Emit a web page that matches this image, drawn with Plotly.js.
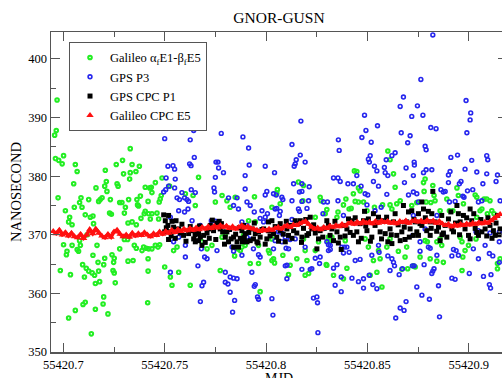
<!DOCTYPE html>
<html><head><meta charset="utf-8">
<script src="https://cdn.plot.ly/plotly-3.0.1.min.js"></script>
<style>html,body{margin:0;padding:0;background:#fff;overflow:hidden;width:502px;height:378px;}#chart{width:508px;height:386px;}</style>
</head><body><div id="chart"></div>
<script>
const MJD_BASE = 55420;

// Galileo alpha_f E1 - beta_f E5 (fraction of day, ns)
const galileoMjd = [
0.6965,0.6957,0.6969,0.6961,0.6977,0.6994,0.7001,0.7059,0.7068,0.7051,
0.6974,0.7010,0.7031,0.7026,0.7043,0.7054,0.7080,0.7087,0.7092,0.7108,
0.7125,0.7133,0.7146,0.7149,0.7161,0.7174,0.7182,0.7191,0.7207,0.7212,
0.7204,0.7215,0.7232,0.7228,0.7237,0.7265,0.7270,0.7261,0.7292,0.7297,
0.7330,0.7339,0.7330,0.7327,0.7358,0.7375,0.7278,0.7289,0.7306,0.7322,
0.7301,0.7363,0.7366,0.7371,0.7380,0.7404,0.7426,0.7383,0.7399,0.7421,
0.7339,0.7319,0.7360,0.7001,0.7018,0.7015,0.7043,0.7068,0.7075,0.7084,
0.7080,0.6985,0.7035,0.7095,0.7104,0.7113,0.7125,0.7142,0.7154,0.7146,
0.7166,0.7158,0.7179,0.7174,0.7171,0.7199,0.7204,0.7240,0.7251,0.7248,
0.7245,0.7251,0.7256,0.7278,0.7301,0.7317,0.7319,0.7344,0.7350,0.7360,
0.7388,0.7396,0.7409,0.7418,0.7418,0.7416,0.7026,0.7059,0.7097,0.7108,
0.7158,0.7196,0.7199,0.7220,0.7138,0.7117,
0.7487,0.7454,0.7434,0.7524,0.7483,0.7437,0.7418,0.7473,0.7667,0.7602,
0.7640,0.7651,0.7750,0.7783,0.7807,0.7823,0.7848,0.7404,0.7437,0.7462,
0.7470,0.7429,0.7421,0.7454,0.7467,0.7437,0.7544,0.7561,0.7684,0.7709,
0.7733,0.7783,0.7799,0.7845,0.7862,0.7500,0.7528,0.7626,0.7774,0.7536,
0.7569,0.7478,0.7475,
0.8056,0.8053,0.7943,0.8160,0.8185,0.8182,0.8267,0.8272,0.8070,0.8029,
0.8292,0.8243,0.7947,0.7914,0.7889,0.8029,0.7902,0.7881,0.7873,0.7897,
0.7963,0.8012,0.8037,0.8017,0.8029,0.8042,0.7963,0.7922,0.8083,0.8119,
0.8111,0.8193,0.8202,0.8210,0.8193,0.8152,0.8243,0.8297,0.8308,0.8259,
0.7971,0.8185,
0.8601,0.8612,0.8436,0.8448,0.8629,0.8637,0.8456,0.8464,0.8431,0.8394,
0.8440,0.8456,0.8481,0.8420,0.8410,0.8498,0.8535,0.8575,0.8612,0.8621,
0.8645,0.8662,0.8719,0.8300,0.8355,0.8350,0.8382,0.8308,0.8325,0.8391,
0.8489,0.8505,0.8555,0.8563,0.8530,0.8596,0.8612,0.8653,0.8686,0.8694,
0.8670,0.8699,0.8727,0.8300,0.8333,0.8399,0.8382,0.8514,0.8547,0.8572,
0.8777,0.8785,0.8823,0.8780,0.8829,0.8744,0.8790,0.8813,0.8834,0.8892,
0.8942,0.8949,0.9032,0.9040,0.8974,0.9076,0.9089,0.9105,0.9114,0.9125,
0.9092,0.9040,0.9056,0.9065,0.8905,0.8922,0.8859,0.8785,0.8796,0.8859,
0.8867,0.8843,0.8958,0.8967,0.8999,0.8982,0.8971,0.9036,0.8760,0.8810,
0.8843,0.8875,0.8736,0.8967,0.9142,0.9155,0.9142
];
const galileoNs = [
387.8,387.0,393.0,383.0,382.7,382.1,383.5,382.0,380.8,378.7,
376.3,374.1,373.0,372.2,371.7,374.7,375.5,376.3,374.7,373.4,
376.0,373.0,373.2,371.9,378.0,375.7,376.0,376.3,381.0,379.1,
378.3,377.4,376.0,373.7,373.5,378.7,378.3,382.0,382.7,380.4,
384.7,382.0,380.6,379.5,380.8,381.7,375.5,375.5,374.7,376.0,
373.7,376.0,375.1,374.9,376.6,378.1,378.0,372.8,373.6,373.6,
372.2,372.0,371.7,368.3,367.2,366.6,368.2,367.5,367.2,368.2,
369.0,363.9,363.2,364.9,362.8,364.3,363.8,363.5,363.1,366.5,
368.2,361.7,362.0,363.8,365.3,364.9,366.0,366.6,366.0,365.3,
363.9,363.5,361.8,367.6,369.2,369.2,365.5,365.6,368.2,367.7,
367.3,367.9,367.7,365.9,363.8,358.4,355.8,357.1,358.1,358.5,
357.3,358.2,359.4,356.5,353.1,370.0,
379.7,378.9,378.1,378.3,376.7,377.2,375.7,375.6,379.8,377.0,
376.7,375.0,375.6,376.7,375.8,374.7,376.4,374.0,373.6,373.7,
372.7,372.7,367.6,368.2,367.9,367.6,367.3,367.9,368.8,367.6,
368.2,369.6,369.9,366.4,367.6,364.5,362.8,361.4,363.9,361.4,
363.6,376.1,368.3,
377.7,377.1,376.5,379.0,378.4,375.8,376.4,375.8,375.3,374.7,
373.6,373.0,372.2,372.4,369.9,369.3,368.8,367.9,367.3,368.2,
368.2,367.3,365.9,366.9,365.6,365.2,365.1,365.1,366.5,364.8,
363.2,367.3,365.6,363.4,363.1,365.9,367.3,364.9,369.6,368.8,
360.3,369.3,
384.3,382.8,380.9,380.8,380.4,378.1,378.0,377.5,377.0,376.1,
375.7,375.6,375.6,374.5,374.4,374.1,374.7,375.1,375.1,374.4,
375.3,375.8,375.0,374.3,373.9,373.0,375.1,368.8,369.6,369.0,
369.3,367.9,367.3,365.9,365.6,367.9,369.3,367.2,366.2,367.9,
364.1,364.2,364.7,364.8,363.1,364.3,362.5,363.1,363.6,361.1,
378.9,379.5,378.4,377.4,376.7,375.5,375.6,375.5,375.8,376.1,
378.0,376.7,376.8,376.4,375.3,376.1,376.1,375.8,374.1,373.6,
373.6,373.0,374.1,374.4,374.1,374.1,374.1,369.0,368.8,369.3,
368.2,368.8,369.6,368.8,368.2,367.3,366.2,369.3,366.2,365.9,
365.5,365.3,364.5,363.9,365.1,365.9,364.2
];

// GPS P3
const gpsP3Mjd = [
0.7511,0.7640,0.7643,0.7500,0.7626,0.7779,0.7886,0.7646,
0.7516,0.7541,0.7549,0.7623,0.7630,0.7753,0.7763,0.7766,
0.7790,0.7750,0.7507,0.7552,0.7519,0.7549,0.7631,0.7651,
0.7743,0.7746,0.7897,0.7897,0.7495,0.7585,0.7561,0.7573,
0.7598,0.7610,0.7618,0.7815,0.7840,0.7857,0.7864,0.7569,
0.7598,0.7615,0.7528,0.7730,0.7750,0.7635,0.7676,0.7881,
0.7544,0.7569,0.7602,0.7681,0.7697,0.7709,0.7602,0.7758,
0.7832,0.7840,0.7881,0.7664,0.7799,0.7823,0.7840,0.7857,
0.7799,0.7812,0.7692,0.7684,0.7823,0.7845,0.7676,0.7835,
0.8172,0.7914,0.8128,0.8169,0.8149,0.8144,0.8139,0.8193,
0.7917,0.7996,0.8042,0.8004,0.7996,0.8037,0.8050,0.8078,
0.8083,0.8136,0.8177,0.8165,0.8177,0.8213,0.8128,0.8177,
0.8210,0.7906,0.7922,0.7942,0.7980,0.8007,0.7996,0.8045,
0.8053,0.8070,0.8066,0.7971,0.8128,0.8160,0.8165,0.8202,
0.8284,0.8303,0.8281,0.7906,0.7955,0.7988,0.8061,0.8078,
0.8045,0.8078,0.8095,0.8119,0.8144,0.7906,0.7922,0.7938,
0.7963,0.7971,0.8037,0.8099,0.8111,0.8193,0.8243,0.8267,
0.8264,0.8308,0.8308,0.8095,0.8103,0.8103,0.8177,0.8218,
0.8226,0.7930,0.7947,0.7942,0.7958,0.7963,0.8029,0.8034,
0.8234,0.8251,0.8254,0.8256,
0.8678,0.8662,0.8719,0.8486,0.8550,0.8493,0.8473,0.8519,
0.8667,0.8711,0.8699,0.8357,0.8361,0.8637,0.8621,0.8593,
0.8514,0.8505,0.8510,0.8535,0.8547,0.8584,0.8588,0.8601,
0.8691,0.8732,0.8727,0.8448,0.8333,0.8355,0.8366,0.8404,
0.8431,0.8469,0.8530,0.8555,0.8683,0.8489,0.8502,0.8596,
0.8703,0.8727,0.8355,0.8498,0.8382,0.8538,0.8568,0.8300,
0.8317,0.8317,0.8374,0.8387,0.8399,0.8382,0.8410,0.8440,
0.8464,0.8522,0.8555,0.8558,0.8601,0.8621,0.8629,0.8634,
0.8612,0.8657,0.8673,0.8722,0.8350,0.8333,0.8371,0.8424,
0.8456,0.8481,0.8509,0.8481,0.8527,0.8547,0.8341,0.8371,
0.8662,0.8681,0.8691,0.8640,
0.8823,0.8764,0.8987,0.8747,0.8774,0.9010,0.9007,0.8813,
0.8839,0.8991,0.8785,0.8790,0.8945,0.8912,0.9089,0.9094,
0.9015,0.8731,0.8982,0.8790,0.8777,0.8818,0.8908,0.8900,
0.9040,0.9089,0.9142,0.9135,0.8962,0.8954,0.8900,0.9070,
0.9020,0.8994,0.8863,0.8875,0.8884,0.8971,0.8977,0.8744,
0.8752,0.9048,0.9065,0.8933,0.8905,0.8727,0.8843,0.9155,
0.8724,0.8785,0.9036,0.9048,0.8875,0.9105,0.9151,0.9151,
0.8760,0.8801,0.8810,0.8925,0.8938,0.8917,0.8949,0.9023,
0.9081,0.9102,0.9119,0.9048,0.8760,0.8843,0.8731,0.8780,
0.8829,0.8823,0.8818,0.9151,0.8917,0.8933,0.9003,0.9073,
0.9110,0.9102,0.9108,0.8744,0.8769,0.8806,0.8851,0.8856,
0.7505,0.7528
];
const gpsP3Ns = [
389.1,389.4,387.8,386.4,386.2,387.3,386.7,383.2,
381.7,381.8,381.2,382.1,381.8,382.4,382.4,381.4,
380.6,379.8,379.7,379.5,378.3,378.0,377.7,377.2,
378.0,377.3,380.1,377.8,377.3,377.2,376.3,376.0,
376.3,376.0,375.7,376.3,375.0,376.3,374.4,374.1,
373.9,374.4,373.0,372.4,372.3,372.4,371.6,372.2,
368.8,369.6,368.2,367.6,366.2,365.9,366.2,367.3,
367.9,367.2,366.5,364.7,363.6,362.8,362.6,362.5,
361.9,361.6,361.9,361.3,360.2,358.8,358.6,356.8,
389.4,384.8,385.4,383.6,382.8,382.1,381.7,382.4,
381.9,381.7,380.6,377.4,376.8,377.0,376.8,376.4,
376.0,378.7,378.7,377.3,377.4,378.2,375.8,375.7,
375.8,375.6,375.0,373.9,374.1,373.6,373.0,374.4,
374.5,374.0,373.3,372.8,372.6,374.4,374.0,374.5,
375.6,375.6,373.6,371.6,370.7,372.2,370.5,370.3,
369.0,368.8,369.6,369.2,369.3,369.6,369.2,367.6,
366.6,366.2,367.6,367.7,367.6,367.9,366.0,366.2,
365.1,368.3,367.3,364.7,364.8,362.5,364.1,364.1,
364.2,363.6,361.5,361.2,359.4,359.0,359.1,356.3,
359.2,359.4,358.4,353.3,
393.5,391.9,390.2,390.4,388.6,387.8,386.6,385.8,
387.4,386.9,385.7,386.2,384.4,384.0,383.5,382.8,
383.5,382.9,382.4,381.7,380.9,381.5,380.6,380.1,
381.4,381.9,380.1,380.1,379.7,379.7,379.1,378.7,
378.7,378.3,379.1,378.3,378.9,377.0,376.8,376.9,
376.8,377.3,375.8,375.1,373.3,374.1,374.7,368.8,
368.2,367.5,367.9,367.9,367.9,366.9,367.0,365.6,
365.8,366.5,368.2,367.0,366.4,365.9,365.3,364.7,
363.9,363.2,364.2,364.7,364.9,364.3,362.8,362.6,
362.0,362.5,363.1,360.9,361.5,360.8,361.4,360.3,
357.5,357.1,358.6,355.8,
404.1,396.5,392.9,392.0,390.4,390.8,389.6,388.3,
388.1,387.4,385.1,384.5,383.6,383.2,383.5,382.8,
382.7,382.4,381.2,381.1,380.6,381.1,380.8,380.2,
380.7,380.4,380.2,379.1,379.1,378.7,378.9,378.7,
377.7,377.5,377.7,377.3,377.4,376.6,376.4,377.0,
375.6,375.6,375.8,375.7,375.6,373.3,373.3,375.8,
369.9,371.0,370.5,370.7,370.2,370.3,370.5,368.8,
368.8,367.9,367.7,367.5,367.3,366.4,366.5,367.6,
368.2,366.8,366.4,365.9,367.2,366.5,364.7,364.9,
364.2,363.8,363.4,365.3,362.6,362.4,363.4,362.9,
363.2,361.5,360.9,361.1,359.7,359.0,361.3,356.0,
377.7,363.6
];

// GPS CPC P1
const gpsCpcMjd = [
0.7495,0.7503,0.7536,0.7556,0.7516,0.7500,0.7528,0.7544,
0.7569,0.7577,0.7519,0.7552,0.7593,0.7618,0.7635,0.7643,
0.7659,0.7667,0.7667,0.7676,0.7692,0.7709,0.7716,0.7725,
0.7741,0.7758,0.7769,0.7774,0.7786,0.7799,0.7807,0.7815,
0.7828,0.7840,0.7840,0.7857,0.7873,0.7884,0.7864,0.7684,
0.7651,0.7519,
0.7881,0.7897,0.7906,0.7930,0.7938,0.7947,0.7963,0.7971,
0.7988,0.8012,0.8029,0.8012,0.8037,0.8053,0.8070,0.8103,
0.8111,0.8095,0.8136,0.8144,0.8160,0.8169,0.8185,0.8177,
0.8202,0.8218,0.8226,0.8243,0.8259,0.8267,0.8287,0.8300,
0.8308,0.7922,0.7955,0.8004,0.8251,0.7889,0.8070,0.8119,
0.8325,0.8350,0.8366,0.8333,0.8371,0.8382,0.8399,0.8407,
0.8424,0.8431,0.8448,0.8464,0.8481,0.8486,0.8498,0.8505,
0.8530,0.8538,0.8555,0.8563,0.8580,0.8588,0.8601,0.8612,
0.8629,0.8637,0.8645,0.8662,0.8670,0.8678,0.8686,0.8694,
0.8703,0.8711,0.8719,0.8727,0.8522,0.8456,0.8621,
0.8769,0.8823,0.8801,0.8818,0.8752,0.8736,0.8769,0.8793,
0.8752,0.8810,0.8834,0.8851,0.8875,0.8859,0.8884,0.8900,
0.8917,0.8925,0.8949,0.8958,0.8974,0.8982,0.8999,0.9007,
0.9015,0.9032,0.9048,0.9065,0.9081,0.9089,0.9105,0.9122,
0.9130,0.9142,0.9155,0.8810,0.8777,0.8942,0.8744,0.9007,
0.8867,
0.7508,0.7532,0.7560,0.7585,0.7605,0.7626,0.7650,0.7672,
0.7700,0.7720,0.7735,0.7752,0.7780,0.7795,0.7820,0.7850,
0.7868,0.7893,0.7915,0.7942,0.7960,0.7980,0.7996,0.8020,
0.8045,0.8062,0.8085,0.8100,0.8128,0.8152,0.8175,0.8196,
0.8210,0.8235,0.8255,0.8280,0.8316,0.8340,0.8357,0.8390,
0.8415,0.8440,0.8470,0.8492,0.8515,0.8545,0.8570,0.8595,
0.8618,0.8652,0.8682,0.8707,0.8730,0.8760,0.8786,0.8815,
0.8842,0.8868,0.8892,0.8912,0.8935,0.8955,0.8990,0.9025,
0.9040,0.9060,0.9095,0.9115,0.9135,0.9150
];
const gpsCpcNs = [
373.4,372.4,372.3,372.4,371.6,370.5,370.5,371.3,
371.0,370.3,369.2,369.4,369.9,370.2,370.7,369.3,
370.7,370.2,369.0,369.6,369.9,370.3,371.0,371.6,
370.7,372.0,372.3,371.0,370.5,369.6,370.5,368.8,
369.3,367.9,369.6,368.8,369.4,368.8,367.9,368.2,
368.8,373.3,
370.7,370.2,368.8,371.0,369.3,370.2,370.5,369.6,
371.0,372.2,372.4,370.7,370.2,369.6,370.7,371.0,
369.9,368.8,370.7,372.4,371.9,372.4,371.1,369.6,
369.9,373.0,371.0,370.3,369.3,370.7,371.1,372.4,
371.6,369.0,368.8,369.3,367.6,371.6,371.9,371.6,
371.0,370.5,369.6,369.0,367.5,371.6,371.0,372.7,
372.4,369.9,370.5,371.9,372.4,374.0,370.7,372.7,
373.6,371.6,373.0,370.5,372.4,370.2,368.8,371.0,
372.2,373.6,369.9,369.0,370.5,375.0,369.2,372.2,
373.9,371.0,374.1,369.9,369.6,368.8,368.5,
375.6,377.4,374.0,373.6,373.6,372.2,371.6,370.7,
369.9,369.9,372.2,371.3,370.3,369.0,371.6,372.7,
371.0,370.5,373.6,372.2,373.3,371.0,369.9,374.4,
372.4,371.1,369.9,370.5,371.0,369.8,371.6,370.7,
369.9,373.3,371.0,372.2,374.4,375.0,370.5,369.3,
373.3,
371.2,369.8,370.8,371.8,368.9,371.4,370.0,371.5,
368.7,369.4,372.5,369.2,371.9,368.4,370.9,370.1,
371.2,369.5,370.4,372.0,368.6,370.9,368.4,369.8,
371.4,368.9,370.1,372.3,369.4,370.3,368.7,372.6,
370.2,371.7,370.9,369.6,369.9,372.3,368.6,369.8,
370.4,372.9,369.4,371.5,368.9,372.1,369.3,373.0,
370.0,371.7,371.3,369.6,372.6,371.9,372.9,371.1,
370.6,370.0,369.6,373.9,372.0,370.0,372.9,373.6,
370.4,372.6,372.9,369.4,372.0,370.0
];

// Galileo CPC E5
const galCpcMjd = [
0.6950,0.6965,0.6980,0.6995,0.7010,0.7025,0.7040,0.7055,
0.7070,0.7085,0.7100,0.7115,0.7130,0.7145,0.7160,0.7175,
0.7190,0.7205,0.7220,0.7235,0.7250,0.7265,0.7280,0.7295,
0.7310,0.7325,0.7340,0.7355,0.7370,0.7385,0.7400,0.7415,
0.7430,0.7445,0.7460,0.7475,0.7490,0.7505,0.7520,0.7535,
0.7550,0.7565,0.7580,0.7595,0.7610,0.7625,0.7640,0.7655,
0.7670,0.7685,0.7700,0.7715,0.7730,0.7745,0.7760,0.7775,
0.7790,0.7805,0.7820,0.7835,0.7850,0.7865,0.7880,0.7895,
0.7910,0.7925,0.7940,0.7955,0.7970,0.7985,0.8000,0.8015,
0.8030,0.8045,0.8060,0.8075,0.8090,0.8105,0.8120,0.8135,
0.8150,0.8165,0.8180,0.8195,0.8210,0.8225,0.8240,0.8255,
0.8270,0.8285,0.8300,0.8315,0.8330,0.8345,0.8360,0.8375,
0.8390,0.8405,0.8420,0.8435,0.8450,0.8465,0.8480,0.8495,
0.8510,0.8525,0.8540,0.8555,0.8570,0.8585,0.8600,0.8615,
0.8630,0.8645,0.8660,0.8675,0.8690,0.8705,0.8720,0.8735,
0.8750,0.8765,0.8780,0.8795,0.8810,0.8825,0.8840,0.8855,
0.8870,0.8885,0.8900,0.8915,0.8930,0.8945,0.8960,0.8975,
0.8990,0.9005,0.9020,0.9035,0.9050,0.9065,0.9080,0.9095,
0.9110,0.9125,0.9140,0.9155
];
const galCpcNs = [
370.6,370.2,370.8,370.0,370.4,369.8,370.3,369.7,
369.5,370.1,369.4,370.0,370.9,370.2,371.0,370.3,
369.8,369.5,370.1,369.6,370.5,370.8,370.1,369.7,
370.0,369.6,370.3,369.8,370.2,369.9,370.4,370.0,
369.7,370.2,369.9,370.5,370.1,370.6,370.3,370.8,
370.4,370.9,370.6,371.0,370.7,371.1,370.8,371.2,
370.9,371.3,371.0,371.4,371.1,371.5,371.2,371.6,
371.3,371.5,371.1,371.4,371.0,371.3,371.6,371.2,
371.4,371.1,371.0,370.8,370.6,370.9,370.7,371.0,
370.8,371.1,371.3,371.0,371.4,371.6,371.3,371.7,
371.6,371.9,372.1,372.3,371.8,371.3,371.0,371.2,
370.9,371.3,371.1,371.5,371.3,371.6,371.4,371.8,
371.5,371.9,372.1,371.8,372.2,371.9,372.3,372.0,
372.2,371.9,372.3,372.0,372.4,372.1,372.3,372.0,
372.2,371.9,372.3,372.1,372.4,372.0,372.3,372.5,
372.2,372.4,372.1,372.5,372.2,372.4,372.0,372.3,
371.9,371.6,371.8,371.4,371.7,371.5,371.8,371.6,
371.9,371.7,372.0,371.8,372.1,371.9,372.2,372.0,
372.4,372.8,373.2,373.5
];

const toMjd = arr => arr.map(v => MJD_BASE + v);
const FONT = '"Liberation Serif", "Times New Roman", Times, serif';
const AX = '#555555';
const RED = '#ff1010';

const traces = [
  {type:'scatter', mode:'markers', name:'Galileo α<sub>f</sub>E1-β<sub>f</sub>E5',
   x: toMjd(galileoMjd), y: galileoNs,
   marker:{symbol:'circle-open', size:3.6, color:'#22ee22', line:{width:2, color:'#22ee22'}}},
  {type:'scatter', mode:'markers', name:'GPS P3',
   x: toMjd(gpsP3Mjd), y: gpsP3Ns,
   marker:{symbol:'circle-open', size:3.8, color:'#2626ee', line:{width:1.6, color:'#2626ee'}}},
  {type:'scatter', mode:'markers', name:'GPS CPC P1',
   x: toMjd(gpsCpcMjd), y: gpsCpcNs,
   marker:{symbol:'square', size:5, color:'#000000'}},
  {type:'scatter', mode:'lines', name:'Galileo CPC E5', showlegend:false,
   x: toMjd(galCpcMjd), y: galCpcNs,
   line:{color:RED, width:3.5}},
  {type:'scatter', mode:'markers', name:'Galileo CPC E5',
   x: toMjd(galCpcMjd), y: galCpcNs,
   marker:{symbol:'triangle-up', size:6.5, color:RED}}
];

const layout = {
  width: 508, height: 386,
  margin: {l:51, r:1, t:32, b:34},
  paper_bgcolor:'#ffffff', plot_bgcolor:'#ffffff',
  font: {family: FONT, color:'#000000', size:12.5},
  showlegend: true,
  hovermode: false,
  title: {text:'GNOR-GUSN', font:{family:FONT, size:15.5, color:'#000'}, x:0.5, xref:'paper', y:1 - 18/386, yref:'container', yanchor:'middle'},
  xaxis: {
    range:[55420.6939, 55420.9189], tickmode:'linear', tick0:55420.7, dtick:0.05, tickformat:'.2~f',
    ticks:'inside', ticklen:9, tickwidth:1, tickcolor:AX,
    showline:true, linecolor:AX, linewidth:1.5, mirror:'ticks',
    showgrid:false, zeroline:false,
    minor:{ticks:'inside', ticklen:5, tickwidth:1, tickcolor:AX, dtick:0.025, tick0:55420.7, showgrid:false},
    tickfont:{family:FONT, size:12.5, color:'#000'}
  },
  yaxis: {
    range:[350, 404.6], tickmode:'linear', tick0:0, dtick:10,
    ticks:'inside', ticklen:9, tickwidth:1, tickcolor:AX,
    showline:true, linecolor:AX, linewidth:1.5, mirror:'ticks',
    showgrid:false, zeroline:false,
    minor:{ticks:'inside', ticklen:5, tickwidth:1, tickcolor:AX, dtick:5, showgrid:false},
    tickfont:{family:FONT, size:12.5, color:'#000'},
    title:{text:'NANOSECOND', font:{family:FONT, size:14.5, color:'#000'}, standoff:3}
  },
  annotations: [{
    text:'MJD', xref:'paper', yref:'paper', x:0.5, y:-0.052, xanchor:'center', yanchor:'top',
    showarrow:false, font:{family:FONT, size:14, color:'#000'}
  }],
  legend: {
    x:0.0395, y:0.969, xanchor:'left', yanchor:'top',
    bgcolor:'#ffffff', bordercolor:AX, borderwidth:1,
    font:{family:FONT, size:12.5, color:'#000'}, tracegroupgap:0
  }
};

Plotly.newPlot('chart', traces, layout, {staticPlot:true, displayModeBar:false});
</script>
</body></html>
